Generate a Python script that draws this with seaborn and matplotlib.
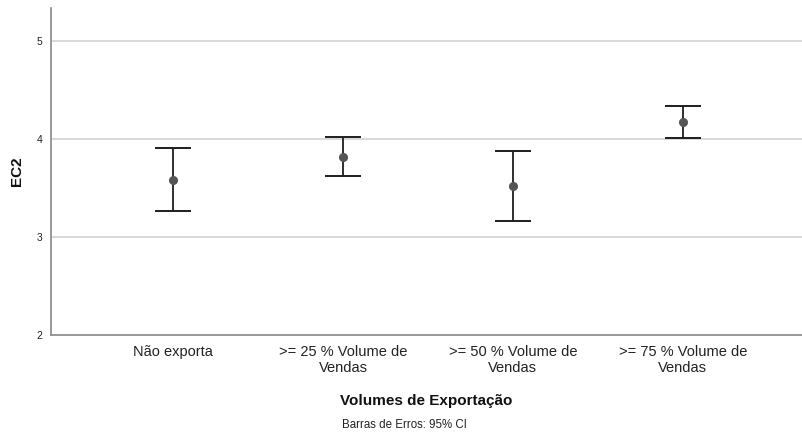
import numpy as np
import pandas as pd
import matplotlib
matplotlib.use("Agg")
import matplotlib.pyplot as plt
import seaborn as sns

# Valores (média e IC 95%)
grupos = ["Não exporta", ">= 25 % Volume de\nVendas", ">= 50 % Volume de\nVendas", ">= 75 % Volume de\nVendas"]
media = [3.585, 3.82, 3.52, 4.177]
ic_inf = [3.265, 3.625, 3.165, 4.015]
ic_sup = [3.905, 4.02, 3.88, 4.34]
y_ticks = [2, 3, 4, 5]

df = pd.DataFrame({"grupo": grupos, "media": media, "inf": ic_inf, "sup": ic_sup})

sns.set_theme(style="white")
plt.rcParams["font.family"] = ["Liberation Sans", "DejaVu Sans"]

fig = plt.figure(figsize=(8.03, 4.37), dpi=100)
ax = fig.add_axes([0.0635, 0.2334, 0.935, 0.7483])

# linhas de grade
for t in y_ticks[1:]:
    ax.axhline(t, color="#d6d6d6", lw=1.3, zorder=0)

# barras de erro (IC 95%)
pos = np.arange(len(df))
ax.errorbar(pos, df["media"],
            yerr=[df["media"] - df["inf"], df["sup"] - df["media"]],
            fmt="none", ecolor="#1e1e1e", elinewidth=1.3, capsize=13, capthick=1.4, zorder=2)

# médias
sns.pointplot(data=df, x="grupo", y="media", errorbar=None, linestyle="none",
              color="#555555", markersize=4.5, ax=ax, zorder=3)

ax.set_ylim(2, 5.337)
ax.set_xlim(-0.718, 3.70)
ax.set_yticks(y_ticks)
ax.set_yticklabels([str(t) for t in y_ticks], fontsize=7.5, color="#222222")
ax.tick_params(axis="x", length=0, pad=7, labelsize=10.5, colors="#222222")
ax.tick_params(axis="y", length=0, pad=6)

for s in ["top", "right"]:
    ax.spines[s].set_visible(False)
for s in ["left", "bottom"]:
    ax.spines[s].set_color("#888888")
    ax.spines[s].set_linewidth(1.2)

ax.set_ylabel("EC2", fontsize=11, fontweight="bold", labelpad=9, color="#111111")
ax.set_xlabel("Volumes de Exportação", fontsize=11, fontweight="bold", labelpad=14, color="#111111")

fig.text(0.504, 0.027, "Barras de Erros: 95% CI", ha="center", va="center", fontsize=8.3, color="#222222")

fig.savefig("out.png", dpi=100)
